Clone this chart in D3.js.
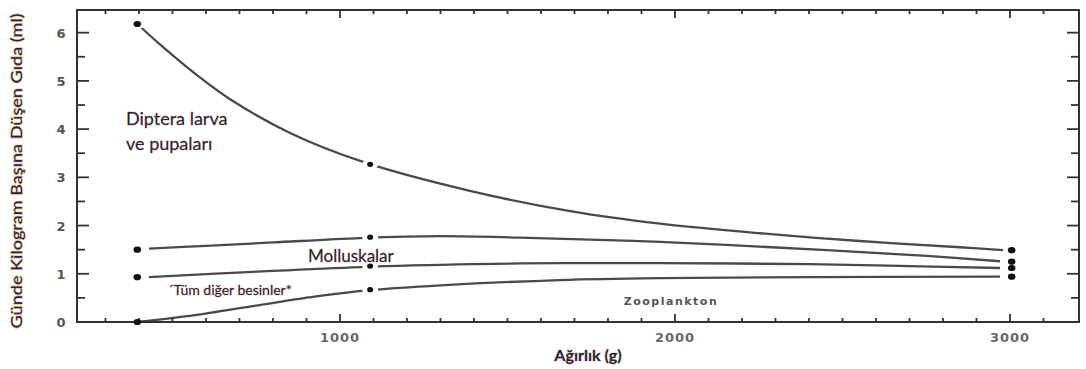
<!DOCTYPE html>
<html lang="tr">
  <head>
    <meta charset="utf-8">
    <title>Günde kilogram başına düşen gıda</title>
    <script src="https://cdnjs.cloudflare.com/ajax/libs/d3/7.8.0/d3.min.js"></script>
    <style>
      body { margin: 0; background: #fff; }
      .lbl { font-family: Lato, "Open Sans", sans-serif; fill: #22264a; stroke: #e8a860; stroke-width: 0.9px; paint-order: stroke; stroke-opacity: 0.7; }
      .tick-y { font-family: "DejaVu Sans", sans-serif; font-size: 13px; font-weight: bold; fill: #555; }
      .tick-x { font-family: "DejaVu Sans", sans-serif; font-size: 13px; font-weight: bold; fill: #666; letter-spacing: 1px; }
      .curve { fill: none; stroke: #2a2a2a; stroke-width: 2.3px; stroke-opacity: 0.85; }
    </style>
  </head>
  <body>
    <div id="chart"></div>
    <script>
      // Ağırlık (g) değerleri ve eğriler
      var diptX = [395, 472, 573, 672, 851, 1069, 1388, 1687, 1955, 2254, 2552, 2851, 2979];
      var diptY = [6.18, 5.70, 5.12, 4.62, 3.92, 3.32, 2.72, 2.30, 2.04, 1.84, 1.68, 1.55, 1.49];

      var mollX = [430, 600, 800, 1060, 1300, 1537, 1955, 2454, 2752, 2970];
      var mollY = [1.52, 1.58, 1.65, 1.74, 1.78, 1.75, 1.66, 1.49, 1.37, 1.26];

      var digerX = [430, 740, 1060, 1400, 1657, 1955, 2400, 2700, 2970];
      var digerY = [0.93, 1.04, 1.14, 1.20, 1.22, 1.22, 1.20, 1.16, 1.12];

      var zooX = [395, 543, 740, 940, 1090, 1300, 1657, 1955, 2400, 2970];
      var zooY = [0, 0.12, 0.33, 0.54, 0.66, 0.76, 0.87, 0.91, 0.93, 0.94];

      // ölçüm noktaları
      var dotX = [395, 1090, 3005];
      var dotY = [
        [6.18, 1.50, 0.93, 0],
        [3.27, 1.76, 1.16, 0.67],
        [1.49, 1.25, 1.12, 0.94]
      ];

      var yTicks = [0, 1, 2, 3, 4, 5, 6];
      var xTicks = [1000, 2000, 3000];

      var W = 1086, H = 369;
      var mLeft = 77, mRight = 1079, mTop = 10, mBottom = 322;

      var svg = d3.select("#chart").append("svg")
        .attr("width", W).attr("height", H);

      var x = d3.scaleLinear().domain([215, 3206]).range([mLeft, mRight]);
      var y = d3.scaleLinear().domain([0, 6.47]).range([mBottom, mTop]);

      // frame
      svg.append("rect")
        .attr("x", mLeft).attr("y", mTop)
        .attr("width", mRight - mLeft).attr("height", mBottom - mTop)
        .attr("fill", "none").attr("stroke", "#333").attr("stroke-width", 2);

      // minor/major ticks on all four sides
      var xt = d3.range(300, 3101, 100);
      var tk = svg.append("g").attr("stroke", "#333").attr("stroke-width", 1.8);
      xt.forEach(function(v) {
        var len = v % 1000 === 0 ? 8 : 4;
        tk.append("line").attr("x1", x(v)).attr("x2", x(v)).attr("y1", mBottom).attr("y2", mBottom - len);
        tk.append("line").attr("x1", x(v)).attr("x2", x(v)).attr("y1", mTop).attr("y2", mTop + len);
      });
      d3.range(0.5, 6.01, 0.5).forEach(function(v) {
        var len = v % 1 === 0 ? 12 : 8;
        tk.append("line").attr("x1", mLeft).attr("x2", mLeft + len).attr("y1", y(v)).attr("y2", y(v));
        tk.append("line").attr("x1", mRight).attr("x2", mRight - len).attr("y1", y(v)).attr("y2", y(v));
      });

      svg.selectAll(".tick-y").data(yTicks).enter().append("text")
        .attr("class", "tick-y")
        .attr("x", 61).attr("y", function(d) { return y(d) + 5; })
        .attr("text-anchor", "middle")
        .text(function(d) { return d; });

      svg.selectAll(".tick-x").data(xTicks).enter().append("text")
        .attr("class", "tick-x")
        .attr("x", function(d) { return x(d); }).attr("y", 342)
        .attr("text-anchor", "middle")
        .text(function(d) { return d; });

      // curves
      var line = d3.line()
        .x(function(d) { return x(d[0]); })
        .y(function(d) { return y(d[1]); })
        .curve(d3.curveCatmullRom.alpha(0.5));

      [[diptX, diptY], [mollX, mollY], [digerX, digerY], [zooX, zooY]].forEach(function(s) {
        svg.append("path").attr("class", "curve")
          .attr("d", line(d3.zip(s[0], s[1])));
      });

      // breaks in the lines around the points, then the points
      dotX.forEach(function(xv, i) {
        if (i === 2) return;
        dotY[i].forEach(function(yv, j) {
          if (i === 0 && j === 3) return;
          svg.append("ellipse")
            .attr("cx", x(xv)).attr("cy", y(yv))
            .attr("rx", 8).attr("ry", 5).attr("fill", "#fff");
        });
      });
      dotX.forEach(function(xv, i) {
        dotY[i].forEach(function(yv) {
          svg.append("ellipse")
            .attr("cx", x(xv)).attr("cy", y(yv))
            .attr("rx", i === 1 ? 3 : 3.8).attr("ry", i === 1 ? 2.6 : 3.1)
            .attr("fill", "#111");
        });
      });

      // labels
      svg.append("text").attr("class", "lbl")
        .attr("x", 126).attr("y", 125).style("font-size", "18px").text("Diptera larva");
      svg.append("text").attr("class", "lbl")
        .attr("x", 126).attr("y", 150).style("font-size", "18px").text("ve pupaları");
      svg.append("text").attr("class", "lbl")
        .attr("x", 308).attr("y", 262).style("font-size", "17px").text("Molluskalar");
      svg.append("text").attr("class", "lbl")
        .attr("x", 168).attr("y", 295).style("font-size", "14px").text("´Tüm diğer besinler*");
      svg.append("text")
        .attr("x", 671).attr("y", 305)
        .attr("text-anchor", "middle")
        .style("font-family", "DejaVu Sans, sans-serif").style("font-size", "11px")
        .style("font-weight", "bold").style("letter-spacing", "1.5px")
        .attr("fill", "#555").text("Zooplankton");

      svg.append("text").attr("class", "lbl")
        .attr("x", 588).attr("y", 361).attr("text-anchor", "middle")
        .style("font-size", "16px").style("font-weight", "bold").text("Ağırlık (g)");

      svg.append("text").attr("class", "lbl")
        .attr("transform", "translate(22,171) rotate(-90)")
        .attr("text-anchor", "middle")
        .attr("textLength", 315).attr("lengthAdjust", "spacingAndGlyphs")
        .style("stroke-width", "1.4px")
        .style("font-size", "16px").text("Günde Kilogram Başına Düşen Gıda (ml)");
    </script>
  </body>
</html>
